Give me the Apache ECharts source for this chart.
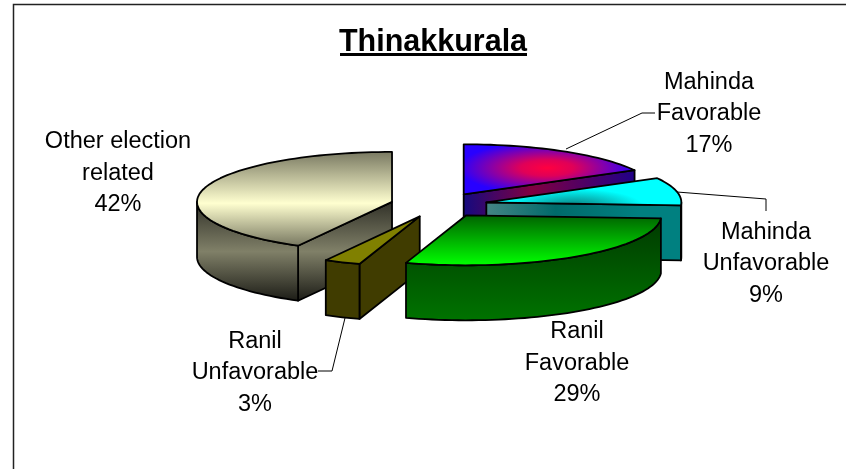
<!DOCTYPE html>
<html>
<head>
<meta charset="utf-8">
<style>
  html, body { margin: 0; padding: 0; background: #fff; }
  #chart { width: 846px; height: 469px; }
</style>
<script src="https://cdn.jsdelivr.net/npm/echarts@6/dist/echarts.min.js"></script>
</head>
<body>
<div id="chart"></div>
<script>
const chartTitle = 'Thinakkurala';
const categories = ['Mahinda\nFavorable', 'Mahinda\nUnfavorable', 'Ranil\nFavorable', 'Ranil\nUnfavorable', 'Other election\nrelated'];
const shares = [17, 9, 29, 3, 42];
// back to front
const drawOrder = [4, 0, 1, 3, 2];

const labelPos = [[709, 114], [766, 264], [577, 363.5], [255, 373], [118, 173.5]];
const leaders = [
  [[566, 149], [642, 113], [655, 113]],
  [[677, 192], [766, 199], [766, 211]],
  null,
  [[345, 318], [332, 371], [318, 371]],
  null
];

// pie projection: x radius, y radius, extrusion, explode distance
const CX = 439, CY = 205, RX = 195, RY = 50, DEPTH = 55, EXPLODE = 48.5;
const FONT = '"Liberation Sans", Arial, sans-serif';

const Linear = echarts.graphic.LinearGradient;
const Radial = echarts.graphic.RadialGradient;
const hGrad = (x0, x1, stops) => new Linear(x0, 0, x1, 0, stops, true);
const vGrad = (y0, y1, stops) => new Linear(0, y0, 0, y1, stops, true);

// colours per slice, same order as categories. squash > 0 means the top fill is an elliptical radial gradient
const paints = [
  {
    squash: 0.3,
    top: new Radial(547, 168 / 0.3, 88, [
      { offset: 0, color: '#ff0040' }, { offset: 0.3, color: '#e00058' },
      { offset: 1, color: '#2800ff' }
    ], true),
    side: hGrad(463, 635, [
      { offset: 0, color: '#140a80' }, { offset: 0.4, color: '#800040' }, { offset: 1, color: '#200088' }
    ])
  },
  {
    squash: 0.25,
    top: new Radial(575, 206 / 0.25, 68, [
      { offset: 0, color: '#0a7c7c' }, { offset: 1, color: '#00ffff' }
    ], true),
    side: hGrad(486, 640, [
      { offset: 0, color: '#458585' }, { offset: 0.45, color: '#006a6a' }, { offset: 1, color: '#008080' }
    ])
  },
  {
    top: vGrad(217, 265, [{ offset: 0, color: '#006800' }, { offset: 1, color: '#00ff00' }]),
    side: vGrad(222, 322, [{ offset: 0, color: '#003c00' }, { offset: 1, color: '#007400' }])
  },
  { top: '#808000', side: '#403c00' },
  {
    top: vGrad(151, 246, [
      { offset: 0, color: '#777760' }, { offset: 0.55, color: '#ffffd0' }, { offset: 1, color: '#777760' }
    ]),
    side: vGrad(203, 300, [
      { offset: 0, color: '#33332a' }, { offset: 0.5, color: '#808068' }, { offset: 1, color: '#1e1e18' }
    ])
  }
];

const total = shares.reduce((a, b) => a + b, 0);
const rad = d => d * Math.PI / 180;

function renderSlice(params, api) {
  const i = api.value(0);
  let a0 = 0;
  for (let k = 0; k < i; k++) a0 += shares[k] / total * 360;
  const a1 = a0 + shares[i] / total * 360;
  const mid = rad((a0 + a1) / 2);
  const cx = CX + EXPLODE * Math.sin(mid);
  const cy = CY - EXPLODE * RY / RX * Math.cos(mid);
  const pt = a => [cx + RX * Math.sin(rad(a)), cy - RY * Math.cos(rad(a))];
  const down = p => [p[0], p[1] + DEPTH];
  const arc = (from, to) => {
    const out = [];
    const n = Math.max(2, Math.ceil((to - from) / 2));
    for (let s = 0; s <= n; s++) out.push(pt(from + (to - from) * s / n));
    return out;
  };
  const line = { stroke: '#000', lineWidth: 1.8, lineJoin: 'round' };
  const paint = paints[i];
  const kids = [];
  const apex = [cx, cy];

  // flat cut faces that look toward the viewer
  [[a0, Math.sin(rad(a0)) < -1e-6], [a1, Math.sin(rad(a1)) > 1e-6]].forEach(f => {
    if (!f[1]) return;
    const p = pt(f[0]);
    kids.push({
      type: 'polygon',
      shape: { points: [apex, p, down(p), down(apex)] },
      style: Object.assign({ fill: paint.side }, line)
    });
  });

  // outer wall, front half only
  const w0 = Math.max(a0, 90), w1 = Math.min(a1, 270);
  if (w1 > w0) {
    const rim = arc(w0, w1);
    kids.push({
      type: 'polygon',
      shape: { points: rim.concat(rim.map(down).reverse()) },
      style: Object.assign({ fill: paint.side }, line)
    });
  }

  // top face
  const topPts = [apex].concat(arc(a0, a1));
  if (paint.squash) {
    kids.push({
      type: 'polygon',
      scaleY: paint.squash,
      shape: { points: topPts.map(p => [p[0], p[1] / paint.squash]) },
      style: { fill: paint.top }
    });
    kids.push({
      type: 'polygon',
      shape: { points: topPts },
      style: Object.assign({ fill: 'none' }, line)
    });
  } else {
    kids.push({
      type: 'polygon',
      shape: { points: topPts },
      style: Object.assign({ fill: paint.top }, line)
    });
  }

  return { type: 'group', children: kids };
}

function renderNotes(params, api) {
  const i = api.value(0);
  const kids = [];
  if (leaders[i]) {
    kids.push({
      type: 'polyline',
      shape: { points: leaders[i] },
      style: { stroke: '#000', lineWidth: 1, fill: 'none' }
    });
  }
  kids.push({
    type: 'text',
    style: {
      text: categories[i] + '\n' + shares[i] + '%',
      x: labelPos[i][0],
      y: labelPos[i][1],
      align: 'center',
      verticalAlign: 'middle',
      fontFamily: FONT,
      fontSize: 23.5,
      lineHeight: 31.5,
      fill: '#000'
    }
  });
  return { type: 'group', children: kids };
}

const chart = echarts.init(document.getElementById('chart'), null, { renderer: 'canvas' });
chart.setOption({
  animation: false,
  backgroundColor: '#fff',
  title: {
    text: chartTitle,
    left: 428,
    top: 22,
    textAlign: 'center',
    textStyle: { fontFamily: FONT, fontSize: 30.5, fontWeight: 'bold', color: '#000' }
  },
  graphic: [
    { type: 'rect', shape: { x: 340, y: 53, width: 187, height: 3 }, style: { fill: '#000' } },
    { type: 'polyline', shape: { points: [[13.5, 469], [13.5, 4.5], [846, 4.5]] }, style: { stroke: '#222', lineWidth: 1.5, fill: 'none' } }
  ],
  series: [
    {
      type: 'custom',
      coordinateSystem: 'none',
      silent: true,
      z: 3,
      data: drawOrder.map(i => [i]),
      renderItem: renderSlice
    },
    {
      type: 'custom',
      coordinateSystem: 'none',
      silent: true,
      z: 2,
      data: categories.map((c, i) => [i]),
      renderItem: renderNotes
    }
  ]
});
</script>
</body>
</html>
